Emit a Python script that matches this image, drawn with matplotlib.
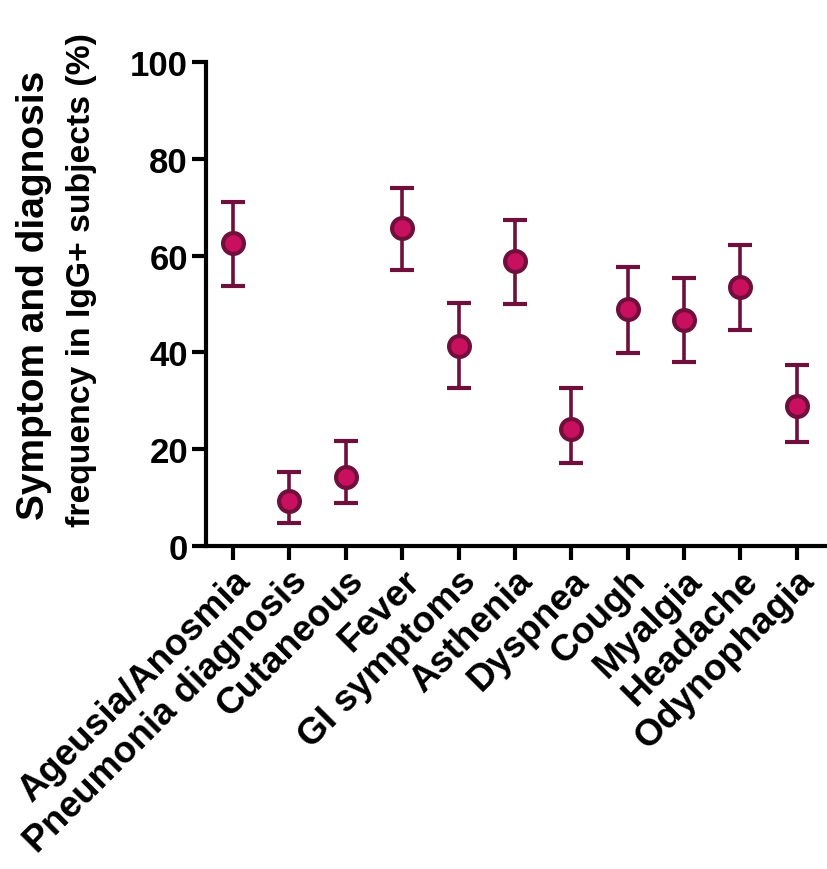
#!/usr/bin/env python3

import matplotlib
matplotlib.use("Agg")
import matplotlib.pyplot as plt

# symptom frequencies with 95% CI
symptoms = ["Ageusia/Anosmia", "Pneumonia diagnosis", "Cutaneous", "Fever",
            "GI symptoms", "Asthenia", "Dyspnea", "Cough", "Myalgia",
            "Headache", "Odynophagia"]
freq = [62.6, 9.3, 14.3, 65.7, 41.3, 58.9, 24.2, 49.0, 46.7, 53.5, 28.9]
ci_low = [53.7, 4.8, 8.9, 57.0, 32.6, 50.0, 17.1, 39.9, 38.0, 44.6, 21.5]
ci_high = [71.1, 15.3, 21.7, 74.0, 50.2, 67.4, 32.6, 57.6, 55.4, 62.2, 37.4]
yticks = [0, 20, 40, 60, 80, 100]
ylabel_lines = ["Symptom and diagnosis", "frequency in IgG+ subjects (%)"]


def main():
    plt.rcParams['font.family'] = ['Liberation Sans', 'DejaVu Sans']
    plt.rcParams['font.weight'] = 'bold'

    W, H = 827, 870
    fig = plt.figure(figsize=(W / 100, H / 100), dpi=100)
    ax = fig.add_axes([206 / W, 1 - 547 / H, 619 / W, 484 / H])

    x = list(range(len(symptoms)))
    yerr = [[f - lo for f, lo in zip(freq, ci_low)],
            [hi - f for f, hi in zip(freq, ci_high)]]

    edge = "#6e0f3c"
    face = "#c8105f"
    ax.errorbar(x, freq, yerr=yerr, fmt='o', color=edge, ecolor=edge,
                elinewidth=2.6, capsize=8.6, capthick=2.6,
                markersize=15, markerfacecolor=face, markeredgecolor=edge,
                markeredgewidth=3, zorder=3, clip_on=False)

    ax.set_xlim(-0.48, 10.5)
    ax.set_ylim(0, 100)
    ax.set_yticks(yticks)
    ax.set_yticklabels([str(t) for t in yticks], fontsize=25, fontweight='bold')
    ax.set_xticks(x)
    ax.set_xticklabels(symptoms, rotation=45, ha='right', va='top',
                       rotation_mode='anchor', fontsize=26.7, fontweight='bold')

    # y label: two lines, the first one stretched wider in the original
    fig.text(34 / W, 1 - 520 / H, ylabel_lines[0], rotation=90,
             ha='center', va='bottom', fontsize=28, fontweight='bold')
    fig.text(82 / W, 1 - 527 / H, ylabel_lines[1], rotation=90,
             ha='center', va='bottom', fontsize=24.3, fontweight='bold')

    for side in ['top', 'right']:
        ax.spines[side].set_visible(False)
    for side in ['left', 'bottom']:
        ax.spines[side].set_linewidth(3)
    ax.tick_params(width=3, length=10)
    ax.tick_params(axis='y', pad=3)
    ax.tick_params(axis='x', pad=2)

    fig.savefig("out.png", dpi=100)


if __name__ == "__main__":
    main()
